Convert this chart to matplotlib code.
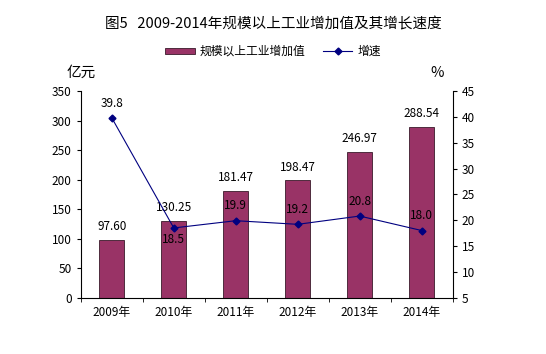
import matplotlib
matplotlib.use("Agg")
import matplotlib.pyplot as plt
import numpy as np

plt.rcParams['font.family'] = ['Noto Sans CJK SC', 'DejaVu Sans']

categories = ['2009年', '2010年', '2011年', '2012年', '2013年', '2014年']
values = [97.60, 130.25, 181.47, 198.47, 246.97, 288.54]
growth = [39.8, 18.5, 19.9, 19.2, 20.8, 18.0]
growth_label_below = [False, True, False, False, False, False]

fig = plt.figure(figsize=(5.46, 3.54), dpi=100)
ax = fig.add_axes([0.148, 0.159, 0.681, 0.584])
x = np.arange(len(categories))
bars = ax.bar(x, values, width=0.4, color='#993366', edgecolor='#3a1a2a', linewidth=0.6,
              label='规模以上工业增加值', zorder=2)
ax.set_xlim(-0.5, len(categories) - 0.5)
ax.set_ylim(0, 350)
ax.set_yticks(np.arange(0, 351, 50))
ax.set_xticks(x)
ax.set_xticklabels(categories, fontsize=8.5)
ax.set_xticks(np.arange(-0.5, len(categories), 1), minor=True)
ax.tick_params(axis='x', which='major', length=0, pad=6)
ax.tick_params(axis='x', which='minor', length=3, direction='out')
ax.tick_params(axis='y', labelsize=8.5, length=3, direction='out')
for s in ['top', 'right']:
    ax.spines[s].set_visible(False)
for s in ['left', 'bottom']:
    ax.spines[s].set_linewidth(0.8)
for xi, v in zip(x, values):
    ax.annotate(f'{v:.2f}', (xi, v), xytext=(0, 5), textcoords='offset points',
                ha='center', va='bottom', fontsize=8.5)

ax2 = ax.twinx()
ax2.set_ylim(5, 45)
ax2.set_yticks(np.arange(5, 46, 5))
ax2.tick_params(axis='y', labelsize=8.5, length=3, direction='out')
for s in ['top', 'left', 'bottom']:
    ax2.spines[s].set_visible(False)
ax2.spines['right'].set_linewidth(0.8)
line, = ax2.plot(x, growth, color='#000080', linewidth=0.8, marker='D', markersize=3.5,
                 label='增速', zorder=3)
for xi, g, below in zip(x, growth, growth_label_below):
    if below:
        ax2.annotate(f'{g:.1f}', (xi, g), xytext=(0, -4), textcoords='offset points',
                     ha='center', va='top', fontsize=8.5)
    else:
        ax2.annotate(f'{g:.1f}', (xi, g), xytext=(0, 6), textcoords='offset points',
                     ha='center', va='bottom', fontsize=8.5)

fig.text(0.5, 0.93, '图5   2009-2014年规模以上工业增加值及其增长速度', ha='center', va='center', fontsize=10.5)
fig.legend(handles=[bars, line], loc='center', bbox_to_anchor=(0.5, 0.855), ncol=2,
           frameon=False, fontsize=8.5, handlelength=2.5, handleheight=0.4,
           columnspacing=1.5, handletextpad=0.4)
fig.text(0.148, 0.795, '亿元', ha='center', va='center', fontsize=10.5)
fig.text(0.80, 0.795, '%', ha='center', va='center', fontsize=10.5)

fig.savefig('out.png', dpi=100)
